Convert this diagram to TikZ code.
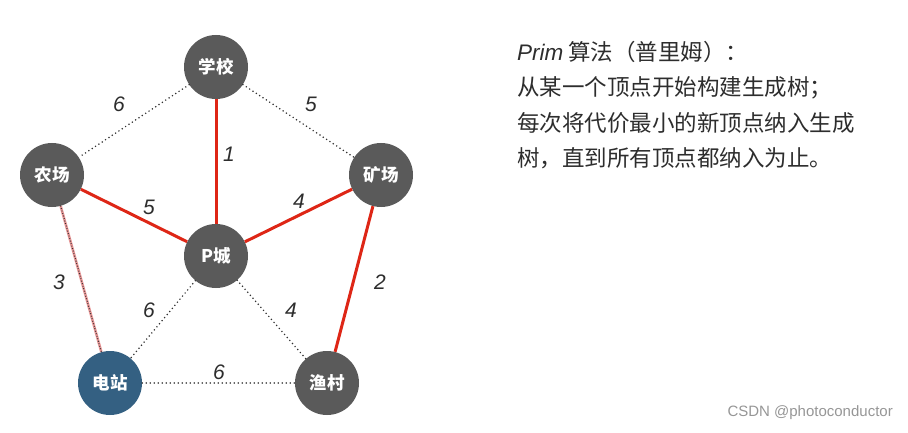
\documentclass[tikz,border=0pt]{standalone}
\usepackage{fontspec}
\setmainfont{Noto Sans CJK SC}
\newfontfamily\lat{Liberation Sans}
\definecolor{nodegray}{RGB}{90,90,90}
\definecolor{nodeblue}{RGB}{52,96,130}
\definecolor{mstred}{RGB}{222,38,22}
\definecolor{pinkred}{RGB}{232,150,150}
\definecolor{dotgray}{RGB}{50,50,50}
\definecolor{txtgray}{RGB}{45,45,45}
\definecolor{wmgray}{RGB}{150,150,150}
\tikzset{
  city/.style={circle, fill=nodegray, minimum size=64pt, inner sep=0pt, text=white, font=\bfseries\fontsize{17.5}{17.5}\selectfont},
  power/.style={city, fill=nodeblue},
  plain/.style={draw=dotgray, line width=1.7pt, line cap=round, dash pattern=on 0pt off 4pt},
  tree/.style={draw=mstred, line width=3pt},
  weak/.style={draw=pinkred, line width=2.6pt},
  wlabel/.style={font=\lat\itshape\fontsize{21}{21}\selectfont, text=txtgray},
  desc/.style={anchor=west, font=\fontsize{22.5}{22.5}\selectfont, text=txtgray, inner sep=0pt}
}
\begin{document}
\begin{tikzpicture}[x=1pt,y=-1pt]
\useasboundingbox (0,0) rectangle (908,433);
\node[city] (school) at (216,67) {学校};
\node[city] (farm) at (52,175) {农场};
\node[city] (mine) at (381,175) {矿场};
\node[city] (pcity) at (216,256) {P城};
\node[power] (power) at (110,383) {电站};
\node[city] (fish) at (327,383) {渔村};

\path[plain] (school) -- (farm);
\path[plain] (school) -- (mine);
\path[plain] (pcity) -- (power);
\path[plain] (pcity) -- (fish);
\path[plain] (power) -- (fish);
\path[tree] (school) -- (pcity);
\path[tree] (farm) -- (pcity);
\path[tree] (mine) -- (pcity);
\path[tree] (mine) -- (fish);
\path[weak] (farm) -- (power);
\path[plain, line width=1.3pt, dash pattern=on 0pt off 2.6pt] (farm) -- (power);

\node[wlabel] (l1) at (119,104) {6};
\node[wlabel] (l2) at (311,104) {5};
\node[wlabel] (l3) at (229,154) {1};
\node[wlabel] (l4) at (149,207) {5};
\node[wlabel] (l5) at (299,201) {4};
\node[wlabel] (l6) at (59,282) {3};
\node[wlabel] (l7) at (380,282) {2};
\node[wlabel] (l8) at (149,310) {6};
\node[wlabel] (l9) at (291,310) {4};
\node[wlabel] (l10) at (219,372) {6};

\node[desc] (t1) at (517,52) {{\lat\itshape Prim} 算法（普里姆）：};
\node[desc] (t2) at (517,88) {从某一个顶点开始构建生成树；};
\node[desc] (t3) at (517,123) {每次将代价最小的新顶点纳入生成};
\node[desc] (t4) at (517,158) {树，直到所有顶点都纳入为止。};

\node[anchor=east, font=\lat\fontsize{15}{15}\selectfont, text=wmgray, inner sep=0pt] (wm) at (893,413) {CSDN @photoconductor};
\end{tikzpicture}
\end{document}
